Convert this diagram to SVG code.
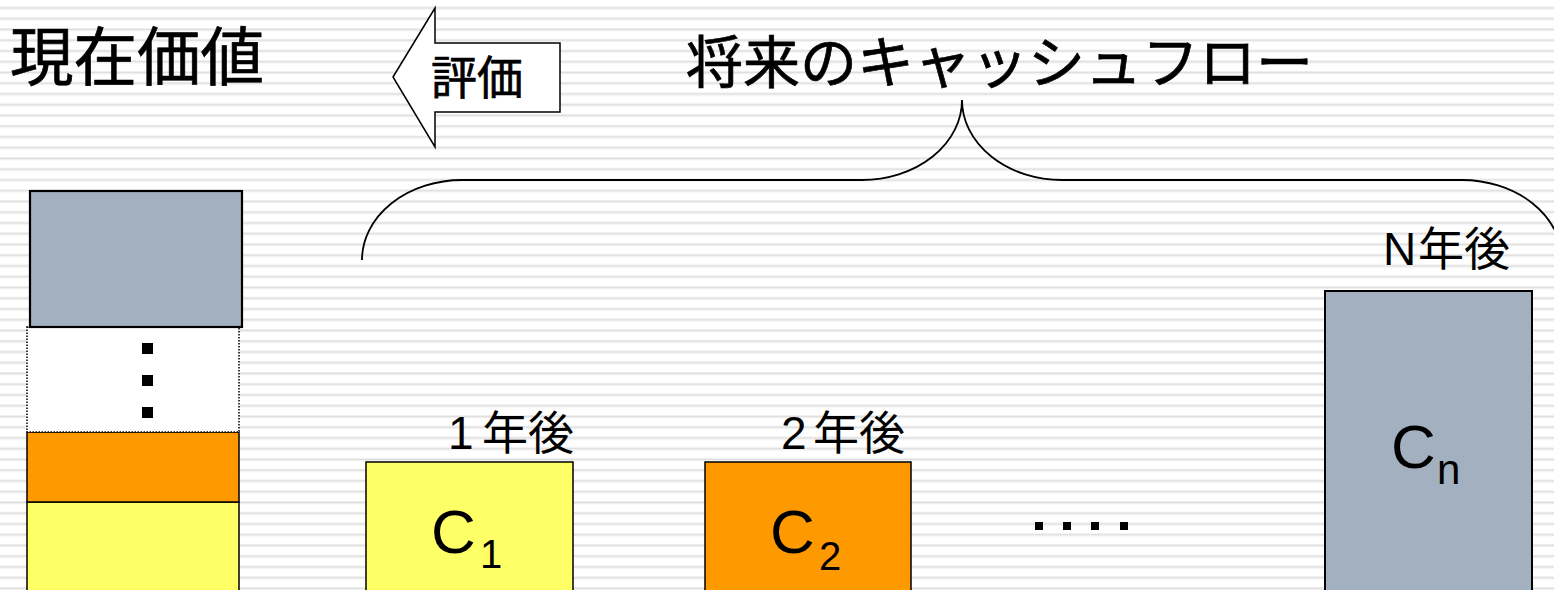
<svg xmlns="http://www.w3.org/2000/svg" width="1554" height="590" viewBox="0 0 1554 590">
  <defs>
    <pattern id="stripes" patternUnits="userSpaceOnUse" x="0" y="6.5" width="20" height="10.75">
      <rect x="0" y="0" width="20" height="0.8" fill="#eeeeee"/>
      <rect x="0" y="0.8" width="20" height="1.6" fill="#dedede"/>
      <rect x="0" y="2.4" width="20" height="0.8" fill="#eeeeee"/>
    </pattern>
  </defs>
  <style>
    .cjk { font-family: "Noto Sans CJK JP", sans-serif; fill: #000; }
    .heavy { stroke: #000; stroke-width: 0.7; }
    .lat { font-family: "Liberation Sans", "Noto Sans CJK JP", sans-serif; fill: #000; }
    .box { stroke: #000; stroke-width: 1.5; }
    .gray { fill: #a3b0bf; }
    .orange { fill: #ff9900; }
    .yellow { fill: #ffff66; }
    .dot { fill: #000; }
    .line { fill: none; stroke: #000; stroke-width: 1.8; }
  </style>
  <rect x="0" y="0" width="1554" height="590" fill="#ffffff"/>
  <rect x="0" y="0" width="1554" height="590" fill="url(#stripes)"/>

  <g id="title-present-value">
    <text class="cjk heavy" x="10" y="80" font-size="63.5">現在価値</text>
  </g>

  <g id="title-future-cashflow">
    <text class="cjk heavy" x="686" y="83" font-size="57">将来のキャッシュフロー</text>
  </g>

  <g id="connectors">
    <path id="brace" class="line" d="M362,260 A100,80 0 0 1 462,180 L862,180 A100,80 0 0 0 962,100 A100,80 0 0 0 1062,180 L1462,180 A100,80 0 0 1 1562,260"/>
    <g id="eval-arrow">
      <polygon points="393,77 435,8 435,43 560,43 560,112 435,112 435,147" fill="#ffffff" stroke="#000" stroke-width="1.5"/>
      <text class="cjk heavy" x="431" y="94" font-size="46">評価</text>
    </g>
  </g>

  <g id="present-value-stack">
    <rect class="yellow box" x="27" y="502" width="212" height="100"/>
    <rect class="orange box" x="27" y="432" width="212" height="70"/>
    <rect x="27" y="327" width="212" height="105" fill="#ffffff" stroke="#000" stroke-width="1.5" stroke-dasharray="1.5 1.5"/>
    <rect class="dot" x="142" y="343" width="11" height="11"/>
    <rect class="dot" x="142" y="375" width="11" height="11"/>
    <rect class="dot" x="142" y="407" width="11" height="11"/>
    <rect class="gray" x="30" y="191" width="212" height="136" stroke="#000" stroke-width="2.2"/>
  </g>

  <g id="cf-1">
    <text class="lat" x="448" y="449" font-size="46">1<tspan x="482">年後</tspan></text>
    <rect class="yellow box" x="366" y="462" width="207" height="140"/>
    <text class="lat" x="431" y="553" font-size="62">C</text>
    <text class="lat" x="480" y="568" font-size="40">1</text>
  </g>

  <g id="cf-2">
    <text class="lat" x="781" y="449" font-size="46">2<tspan x="813">年後</tspan></text>
    <rect class="orange box" x="705" y="462" width="206" height="140"/>
    <text class="lat" x="770" y="553" font-size="62">C</text>
    <text class="lat" x="819" y="570" font-size="40">2</text>
  </g>

  <g id="ellipsis">
    <rect class="dot" x="1035" y="522" width="8" height="8"/>
    <rect class="dot" x="1063" y="522" width="8" height="8"/>
    <rect class="dot" x="1091" y="522" width="8" height="8"/>
    <rect class="dot" x="1120" y="522" width="8" height="8"/>
  </g>

  <g id="cf-n">
    <text class="lat" x="1383" y="265" font-size="46">N<tspan x="1418">年後</tspan></text>
    <rect class="gray" x="1325" y="291" width="207" height="310" stroke="#000" stroke-width="2"/>
    <text class="lat" x="1391" y="468" font-size="62">C</text>
    <text class="lat" x="1437" y="484" font-size="42">n</text>
  </g>
</svg>
